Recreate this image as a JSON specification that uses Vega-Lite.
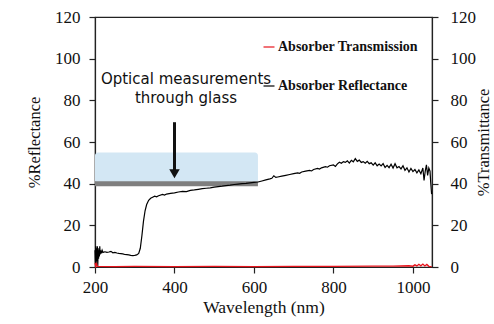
{
  "$schema": "https://vega.github.io/schema/vega-lite/v6.json",
  "width": 337,
  "height": 250,
  "autosize": "none",
  "padding": {"left": 95, "top": 17, "right": 62, "bottom": 57},
  "background": "white",
  "config": {
    "view": {"stroke": "#222", "strokeWidth": 1.2},
    "font": "Liberation Serif",
    "axis": {
      "grid": false,
      "labelFont": "Liberation Serif",
      "labelFontSize": 17,
      "labelColor": "#111",
      "titleFont": "Liberation Serif",
      "titleFontSize": 16.5,
      "titleFontWeight": "normal",
      "titleColor": "#111",
      "domainColor": "#222",
      "tickColor": "#222",
      "tickSize": 6,
      "domainWidth": 1.2,
      "tickWidth": 1.2
    }
  },
  "datasets": {
    "refl": [
      {"nm": 200, "v": 8, "series": "Absorber Reflectance"},
      {"nm": 201, "v": 2, "series": "Absorber Reflectance"},
      {"nm": 202, "v": 10, "series": "Absorber Reflectance"},
      {"nm": 203, "v": 1, "series": "Absorber Reflectance"},
      {"nm": 204, "v": 9, "series": "Absorber Reflectance"},
      {"nm": 205, "v": 3, "series": "Absorber Reflectance"},
      {"nm": 206, "v": 10, "series": "Absorber Reflectance"},
      {"nm": 207, "v": 0.5, "series": "Absorber Reflectance"},
      {"nm": 208, "v": 9, "series": "Absorber Reflectance"},
      {"nm": 209, "v": 4, "series": "Absorber Reflectance"},
      {"nm": 210, "v": 8, "series": "Absorber Reflectance"},
      {"nm": 211, "v": 5, "series": "Absorber Reflectance"},
      {"nm": 212, "v": 10, "series": "Absorber Reflectance"},
      {"nm": 213, "v": 6, "series": "Absorber Reflectance"},
      {"nm": 214, "v": 8, "series": "Absorber Reflectance"},
      {"nm": 216, "v": 6.5, "series": "Absorber Reflectance"},
      {"nm": 218, "v": 8, "series": "Absorber Reflectance"},
      {"nm": 220, "v": 7, "series": "Absorber Reflectance"},
      {"nm": 225, "v": 7.3, "series": "Absorber Reflectance"},
      {"nm": 230, "v": 7, "series": "Absorber Reflectance"},
      {"nm": 235, "v": 7.2, "series": "Absorber Reflectance"},
      {"nm": 240, "v": 7.5, "series": "Absorber Reflectance"},
      {"nm": 245, "v": 6.8, "series": "Absorber Reflectance"},
      {"nm": 250, "v": 7, "series": "Absorber Reflectance"},
      {"nm": 255, "v": 6.7, "series": "Absorber Reflectance"},
      {"nm": 260, "v": 6.5, "series": "Absorber Reflectance"},
      {"nm": 265, "v": 6.4, "series": "Absorber Reflectance"},
      {"nm": 270, "v": 6.3, "series": "Absorber Reflectance"},
      {"nm": 275, "v": 6.0, "series": "Absorber Reflectance"},
      {"nm": 280, "v": 5.9, "series": "Absorber Reflectance"},
      {"nm": 285, "v": 5.8, "series": "Absorber Reflectance"},
      {"nm": 290, "v": 5.6, "series": "Absorber Reflectance"},
      {"nm": 295, "v": 5.5, "series": "Absorber Reflectance"},
      {"nm": 300, "v": 5.6, "series": "Absorber Reflectance"},
      {"nm": 305, "v": 5.8, "series": "Absorber Reflectance"},
      {"nm": 310, "v": 6.5, "series": "Absorber Reflectance"},
      {"nm": 314, "v": 9, "series": "Absorber Reflectance"},
      {"nm": 318, "v": 15, "series": "Absorber Reflectance"},
      {"nm": 322, "v": 22, "series": "Absorber Reflectance"},
      {"nm": 326, "v": 27, "series": "Absorber Reflectance"},
      {"nm": 330, "v": 30, "series": "Absorber Reflectance"},
      {"nm": 335, "v": 32, "series": "Absorber Reflectance"},
      {"nm": 340, "v": 33, "series": "Absorber Reflectance"},
      {"nm": 345, "v": 33.5, "series": "Absorber Reflectance"},
      {"nm": 350, "v": 34, "series": "Absorber Reflectance"},
      {"nm": 355, "v": 33.7, "series": "Absorber Reflectance"},
      {"nm": 360, "v": 34.2, "series": "Absorber Reflectance"},
      {"nm": 370, "v": 34.8, "series": "Absorber Reflectance"},
      {"nm": 375, "v": 34.5, "series": "Absorber Reflectance"},
      {"nm": 380, "v": 35, "series": "Absorber Reflectance"},
      {"nm": 390, "v": 35.3, "series": "Absorber Reflectance"},
      {"nm": 400, "v": 35.6, "series": "Absorber Reflectance"},
      {"nm": 410, "v": 36, "series": "Absorber Reflectance"},
      {"nm": 420, "v": 36.3, "series": "Absorber Reflectance"},
      {"nm": 430, "v": 36.2, "series": "Absorber Reflectance"},
      {"nm": 440, "v": 36.8, "series": "Absorber Reflectance"},
      {"nm": 450, "v": 37, "series": "Absorber Reflectance"},
      {"nm": 460, "v": 37.3, "series": "Absorber Reflectance"},
      {"nm": 470, "v": 37.6, "series": "Absorber Reflectance"},
      {"nm": 480, "v": 37.8, "series": "Absorber Reflectance"},
      {"nm": 490, "v": 38, "series": "Absorber Reflectance"},
      {"nm": 500, "v": 38.3, "series": "Absorber Reflectance"},
      {"nm": 510, "v": 38.6, "series": "Absorber Reflectance"},
      {"nm": 520, "v": 38.8, "series": "Absorber Reflectance"},
      {"nm": 530, "v": 39.1, "series": "Absorber Reflectance"},
      {"nm": 540, "v": 39.3, "series": "Absorber Reflectance"},
      {"nm": 550, "v": 39.6, "series": "Absorber Reflectance"},
      {"nm": 560, "v": 39.8, "series": "Absorber Reflectance"},
      {"nm": 570, "v": 40, "series": "Absorber Reflectance"},
      {"nm": 580, "v": 40.1, "series": "Absorber Reflectance"},
      {"nm": 590, "v": 40.4, "series": "Absorber Reflectance"},
      {"nm": 600, "v": 40.6, "series": "Absorber Reflectance"},
      {"nm": 610, "v": 40.8, "series": "Absorber Reflectance"},
      {"nm": 620, "v": 41.3, "series": "Absorber Reflectance"},
      {"nm": 630, "v": 41.8, "series": "Absorber Reflectance"},
      {"nm": 640, "v": 42.3, "series": "Absorber Reflectance"},
      {"nm": 645, "v": 42.6, "series": "Absorber Reflectance"},
      {"nm": 650, "v": 43.8, "series": "Absorber Reflectance"},
      {"nm": 655, "v": 43, "series": "Absorber Reflectance"},
      {"nm": 660, "v": 43.2, "series": "Absorber Reflectance"},
      {"nm": 670, "v": 43.6, "series": "Absorber Reflectance"},
      {"nm": 680, "v": 44, "series": "Absorber Reflectance"},
      {"nm": 690, "v": 44.4, "series": "Absorber Reflectance"},
      {"nm": 700, "v": 44.8, "series": "Absorber Reflectance"},
      {"nm": 710, "v": 45.2, "series": "Absorber Reflectance"},
      {"nm": 715, "v": 45, "series": "Absorber Reflectance"},
      {"nm": 720, "v": 45.6, "series": "Absorber Reflectance"},
      {"nm": 730, "v": 46, "series": "Absorber Reflectance"},
      {"nm": 740, "v": 46.4, "series": "Absorber Reflectance"},
      {"nm": 745, "v": 46.1, "series": "Absorber Reflectance"},
      {"nm": 750, "v": 46.8, "series": "Absorber Reflectance"},
      {"nm": 760, "v": 47.3, "series": "Absorber Reflectance"},
      {"nm": 765, "v": 47, "series": "Absorber Reflectance"},
      {"nm": 770, "v": 47.6, "series": "Absorber Reflectance"},
      {"nm": 780, "v": 48.2, "series": "Absorber Reflectance"},
      {"nm": 785, "v": 47.9, "series": "Absorber Reflectance"},
      {"nm": 790, "v": 48.6, "series": "Absorber Reflectance"},
      {"nm": 800, "v": 49, "series": "Absorber Reflectance"},
      {"nm": 805, "v": 48.3, "series": "Absorber Reflectance"},
      {"nm": 810, "v": 49.5, "series": "Absorber Reflectance"},
      {"nm": 815, "v": 50.3, "series": "Absorber Reflectance"},
      {"nm": 820, "v": 49.8, "series": "Absorber Reflectance"},
      {"nm": 825, "v": 50.6, "series": "Absorber Reflectance"},
      {"nm": 830, "v": 50.2, "series": "Absorber Reflectance"},
      {"nm": 835, "v": 51, "series": "Absorber Reflectance"},
      {"nm": 840, "v": 49.9, "series": "Absorber Reflectance"},
      {"nm": 845, "v": 51.2, "series": "Absorber Reflectance"},
      {"nm": 850, "v": 50.5, "series": "Absorber Reflectance"},
      {"nm": 855, "v": 52, "series": "Absorber Reflectance"},
      {"nm": 860, "v": 50.7, "series": "Absorber Reflectance"},
      {"nm": 865, "v": 51.3, "series": "Absorber Reflectance"},
      {"nm": 870, "v": 50.2, "series": "Absorber Reflectance"},
      {"nm": 875, "v": 50.6, "series": "Absorber Reflectance"},
      {"nm": 880, "v": 49.8, "series": "Absorber Reflectance"},
      {"nm": 885, "v": 50.7, "series": "Absorber Reflectance"},
      {"nm": 890, "v": 49.6, "series": "Absorber Reflectance"},
      {"nm": 895, "v": 50, "series": "Absorber Reflectance"},
      {"nm": 900, "v": 48.9, "series": "Absorber Reflectance"},
      {"nm": 905, "v": 50, "series": "Absorber Reflectance"},
      {"nm": 910, "v": 48.6, "series": "Absorber Reflectance"},
      {"nm": 915, "v": 49.4, "series": "Absorber Reflectance"},
      {"nm": 920, "v": 48.5, "series": "Absorber Reflectance"},
      {"nm": 925, "v": 49.6, "series": "Absorber Reflectance"},
      {"nm": 930, "v": 47.8, "series": "Absorber Reflectance"},
      {"nm": 935, "v": 48.8, "series": "Absorber Reflectance"},
      {"nm": 940, "v": 47.7, "series": "Absorber Reflectance"},
      {"nm": 945, "v": 49.3, "series": "Absorber Reflectance"},
      {"nm": 950, "v": 47.5, "series": "Absorber Reflectance"},
      {"nm": 955, "v": 49.6, "series": "Absorber Reflectance"},
      {"nm": 960, "v": 47.6, "series": "Absorber Reflectance"},
      {"nm": 965, "v": 48.2, "series": "Absorber Reflectance"},
      {"nm": 970, "v": 47.1, "series": "Absorber Reflectance"},
      {"nm": 975, "v": 48.6, "series": "Absorber Reflectance"},
      {"nm": 980, "v": 46.4, "series": "Absorber Reflectance"},
      {"nm": 985, "v": 47.6, "series": "Absorber Reflectance"},
      {"nm": 990, "v": 45.6, "series": "Absorber Reflectance"},
      {"nm": 995, "v": 47.3, "series": "Absorber Reflectance"},
      {"nm": 1000, "v": 45.8, "series": "Absorber Reflectance"},
      {"nm": 1005, "v": 46.8, "series": "Absorber Reflectance"},
      {"nm": 1010, "v": 45.2, "series": "Absorber Reflectance"},
      {"nm": 1015, "v": 46.6, "series": "Absorber Reflectance"},
      {"nm": 1020, "v": 44.8, "series": "Absorber Reflectance"},
      {"nm": 1025, "v": 47.5, "series": "Absorber Reflectance"},
      {"nm": 1028, "v": 41.5, "series": "Absorber Reflectance"},
      {"nm": 1031, "v": 46, "series": "Absorber Reflectance"},
      {"nm": 1034, "v": 49, "series": "Absorber Reflectance"},
      {"nm": 1037, "v": 44, "series": "Absorber Reflectance"},
      {"nm": 1040, "v": 47.5, "series": "Absorber Reflectance"},
      {"nm": 1043, "v": 46, "series": "Absorber Reflectance"},
      {"nm": 1045, "v": 40, "series": "Absorber Reflectance"},
      {"nm": 1047, "v": 35, "series": "Absorber Reflectance"}
    ],
    "trans": [
      {"nm": 200, "v": 2, "series": "Absorber Transmission"},
      {"nm": 202, "v": 0.4, "series": "Absorber Transmission"},
      {"nm": 204, "v": 1.5, "series": "Absorber Transmission"},
      {"nm": 206, "v": 0.3, "series": "Absorber Transmission"},
      {"nm": 250, "v": 0.2, "series": "Absorber Transmission"},
      {"nm": 300, "v": 0.3, "series": "Absorber Transmission"},
      {"nm": 400, "v": 0.2, "series": "Absorber Transmission"},
      {"nm": 500, "v": 0.3, "series": "Absorber Transmission"},
      {"nm": 600, "v": 0.2, "series": "Absorber Transmission"},
      {"nm": 700, "v": 0.3, "series": "Absorber Transmission"},
      {"nm": 800, "v": 0.3, "series": "Absorber Transmission"},
      {"nm": 900, "v": 0.4, "series": "Absorber Transmission"},
      {"nm": 950, "v": 0.4, "series": "Absorber Transmission"},
      {"nm": 990, "v": 0.6, "series": "Absorber Transmission"},
      {"nm": 1000, "v": 0.4, "series": "Absorber Transmission"},
      {"nm": 1005, "v": 1.0, "series": "Absorber Transmission"},
      {"nm": 1010, "v": 0.5, "series": "Absorber Transmission"},
      {"nm": 1015, "v": 1.3, "series": "Absorber Transmission"},
      {"nm": 1020, "v": 0.6, "series": "Absorber Transmission"},
      {"nm": 1025, "v": 1.4, "series": "Absorber Transmission"},
      {"nm": 1030, "v": 0.5, "series": "Absorber Transmission"},
      {"nm": 1035, "v": 1.2, "series": "Absorber Transmission"},
      {"nm": 1040, "v": 0.3, "series": "Absorber Transmission"},
      {"nm": 1047, "v": 0.2, "series": "Absorber Transmission"}
    ],
    "box": [{"nm": 200, "nm2": 610, "v": 40, "v2": 55}],
    "arrow": [{"nm": 400, "v": 69.5, "v2": 44.8}],
    "note": [{"nm": 429, "v": 90.3, "label": "Optical measurements\nthrough glass"}]
  },
  "layer": [
    {
      "data": {"name": "box"},
      "mark": {"type": "rect", "fill": "#d3e7f4", "cornerRadius": 3},
      "encoding": {
        "x": {"field": "nm", "type": "quantitative", "scale": {"domain": [200, 1048], "nice": false, "zero": false}, "title": "Wavelength (nm)",
          "axis": {"values": [200, 400, 600, 800, 1000], "format": "d", "labelFlush": false, "labelPadding": 6, "titlePadding": 3,
            "labelFont": "Liberation Serif", "labelFontSize": 17, "titleFont": "Liberation Serif", "titleFontSize": 17.5}},
        "x2": {"field": "nm2"},
        "y": {"field": "v", "type": "quantitative", "scale": {"domain": [0, 120], "nice": false}, "axis": null},
        "y2": {"field": "v2"}
      }
    },
    {
      "data": {"name": "box"},
      "mark": {"type": "rule", "stroke": "#7f7f7f", "strokeWidth": 5},
      "encoding": {
        "x": {"field": "nm", "type": "quantitative"},
        "x2": {"field": "nm2"},
        "y": {"field": "v", "type": "quantitative", "scale": {"domain": [0, 120], "nice": false}, "axis": null}
      }
    },
    {
      "data": {"name": "refl"},
      "mark": {"type": "line", "strokeWidth": 1.2},
      "encoding": {
        "x": {"field": "nm", "type": "quantitative"},
        "y": {"field": "v", "type": "quantitative", "scale": {"domain": [0, 120], "nice": false}, "title": "%Reflectance",
          "axis": {"orient": "left", "values": [0, 20, 40, 60, 80, 100, 120], "labelFlush": false, "labelPadding": 9, "titlePadding": 12,
            "labelFont": "Liberation Serif", "labelFontSize": 17, "titleFont": "Liberation Serif", "titleFontSize": 16.5}},
        "color": {"field": "series", "type": "nominal", "scale": {"domain": ["Absorber Transmission", "Absorber Reflectance"], "range": ["#e8141c", "#000000"]},
          "legend": {"orient": "none", "legendX": 167, "legendY": 23, "title": null, "symbolType": "stroke", "symbolSize": 121, "symbolStrokeWidth": 1.2, "labelFont": "Liberation Serif", "labelFontWeight": "bold", "labelFontSize": 14, "labelColor": "#111", "rowPadding": 25, "labelOffset": 2, "padding": 0}}
      }
    },
    {
      "data": {"name": "trans"},
      "mark": {"type": "line", "strokeWidth": 1.4},
      "encoding": {
        "x": {"field": "nm", "type": "quantitative"},
        "y": {"field": "v", "type": "quantitative", "scale": {"domain": [0, 120], "nice": false}, "title": "%Transmittance",
          "axis": {"orient": "right", "values": [0, 20, 40, 60, 80, 100, 120], "labelFlush": false, "labelPadding": 12, "titlePadding": 0, "titleAngle": 270, "titleBaseline": "top",
            "labelFont": "Liberation Serif", "labelFontSize": 17, "titleFont": "Liberation Serif", "titleFontSize": 16.5}},
        "color": {"field": "series", "type": "nominal"}
      }
    },
    {
      "data": {"name": "arrow"},
      "mark": {"type": "rule", "stroke": "#111", "strokeWidth": 3},
      "encoding": {
        "x": {"field": "nm", "type": "quantitative"},
        "y": {"field": "v", "type": "quantitative", "scale": {"domain": [0, 120], "nice": false}, "axis": null},
        "y2": {"field": "v2"}
      }
    },
    {
      "data": {"name": "arrow"},
      "mark": {"type": "point", "shape": "triangle-down", "filled": true, "fill": "#111", "size": 110, "opacity": 1},
      "encoding": {
        "x": {"field": "nm", "type": "quantitative"},
        "y": {"field": "v2", "type": "quantitative", "scale": {"domain": [0, 120], "nice": false}, "axis": null}
      }
    },
    {
      "data": {"name": "note"},
      "mark": {"type": "text", "font": "DejaVu Sans", "fontSize": 15, "lineBreak": "\n", "lineHeight": 19, "align": "center", "baseline": "middle", "color": "#111"},
      "encoding": {
        "x": {"field": "nm", "type": "quantitative"},
        "y": {"field": "v", "type": "quantitative", "scale": {"domain": [0, 120], "nice": false}, "axis": null},
        "text": {"field": "label"}
      }
    }
  ],
  "resolve": {"axis": {"y": "independent"}}
}
